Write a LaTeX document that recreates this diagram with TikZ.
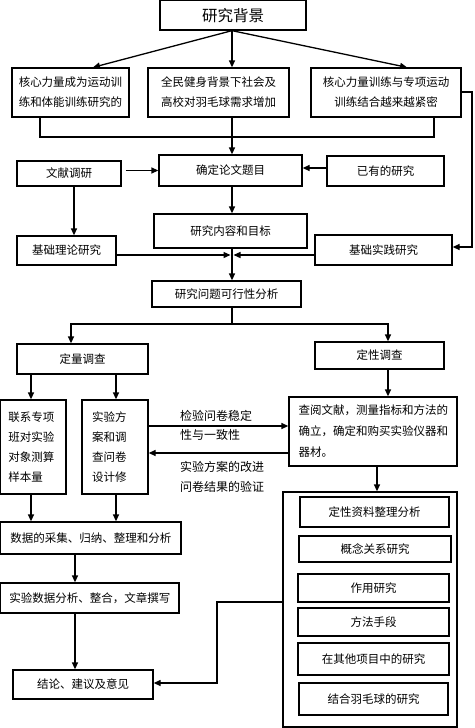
\documentclass[tikz,border=0pt]{standalone}
\usepackage{fontspec}
\newfontfamily\cjk{Noto Sans CJK SC}
\usetikzlibrary{arrows.meta,calc}
\tikzset{
  box/.style={draw, line width=1.3pt, inner sep=0pt, align=center,
    font=\cjk\fontsize{11.5}{20}\selectfont},
  lbl/.style={inner sep=0pt, align=left, anchor=west,
    font=\cjk\fontsize{12}{19.5}\selectfont},
  arr/.style={-{Triangle[length=7pt,width=6pt]}, line width=1.3pt},
  ln/.style={line width=1.3pt}
}
\newcommand\mkbox[7][]{%
  \node[box, minimum width={#5-#3}, minimum height={#6-#4}, #1]
    (#2) at ({(#3+#5)/2},{(#4+#6)/2}) {#7};}
\begin{document}
\begin{tikzpicture}[x=1pt,y=-1pt]
\useasboundingbox (0,0) rectangle (474,728);
% boxes
\mkbox[font=\cjk\fontsize{15.5}{18}\selectfont]{bg}{160}{0.7}{306}{30}{研究背景}
\mkbox{b1}{12}{68}{129}{117}{核心力量成为运动训\\练和体能训练研究的}
\mkbox{b2}{148}{68}{289}{117}{全民健身背景下社会及\\高校对羽毛球需求增加}
\mkbox{b3}{311}{68}{461}{117}{核心力量训练与专项运动\\训练结合越来越紧密}
\mkbox{qd}{159}{155}{302}{186}{确定论文题目}
\mkbox{wx}{17}{161}{121}{186}{文献调研}
\mkbox{yy}{327}{156}{444}{186}{已有的研究}
\mkbox{nr}{154}{214}{307}{248}{研究内容和目标}
\mkbox{ll}{17}{236}{116}{265}{基础理论研究}
\mkbox{sj}{315}{235}{452}{265}{基础实践研究}
\mkbox{kx}{152}{281}{301}{307}{研究问题可行性分析}
\mkbox{dl}{17}{344}{148}{374}{定量调查}
\mkbox{dx}{315}{342}{444}{369}{定性调查}
\mkbox[align=left, text width=50pt]{lx}{0.7}{400}{66}{494}{联系专项\\班对实验\\对象测算\\样本量}
\mkbox[align=left, text width=46pt]{fa}{82}{400}{148}{494}{实验方\\案和调\\查问卷\\设计修}
\mkbox[align=left, text width=149pt, font=\cjk\fontsize{11.5}{21}\selectfont]{cy}{289}{397}{457}{466}{查阅文献，测量指标和方法的\\确立，确定和购买实验仪器和\\器材。}
\mkbox{sc}{0.7}{522}{181}{554}{数据的采集、归纳、整理和分析}
\mkbox{fx}{0.7}{583}{179}{613}{实验数据分析、整合，文章撰写}
\mkbox{jl}{13}{670}{153}{699}{结论、建议及意见}
\mkbox{big}{283}{492}{457}{727}{}
\mkbox{i1}{300}{497}{449}{527}{定性资料整理分析}
\mkbox{i2}{299}{536}{451}{562}{概念关系研究}
\mkbox{i3}{298}{574}{449}{602}{作用研究}
\mkbox{i4}{298}{608}{449}{636}{方法手段}
\mkbox{i5}{298}{643}{449}{675}{在其他项目中的研究}
\mkbox{i6}{299}{683}{448}{715}{结合羽毛球的研究}
% labels
\node[lbl] (la) at (180,425.5) {检验问卷稳定\\性与一致性};
\node[lbl] (lb) at (180,477) {实验方案的改进\\问卷结果的验证};
% coordinates
\coordinate (ax) at (232,0);
\coordinate (h1) at (40,137);
\coordinate (hm) at (232,137);
\coordinate (h3) at (434,137);
\coordinate (r1) at (472,92);
\coordinate (r2) at (472,247);
\coordinate (m) at (232,255);
\coordinate (s) at (232,324);
\coordinate (sl) at (71,324);
\coordinate (sr) at (388,324);
\coordinate (c1) at (31,0);
\coordinate (c2) at (116,0);
\coordinate (c3) at (75,0);
\coordinate (c4) at (74,0);
\coordinate (c5) at (377,0);
\coordinate (ya) at (0,426);
\coordinate (yb) at (0,453);
\coordinate (t1) at (217,602);
\coordinate (t2) at (217,683);
% connectors
\draw[arr] (bg.south -| ax) -- ($(b1.north)+(22.5,0)$);
\draw[arr] (bg.south -| ax) -- (b2.north -| ax);
\draw[arr] (bg.south -| ax) -- ($(b3.north)+(21,0)$);
\draw[ln] (b1.south -| h1) -- (h1) -- (h3) -- (b3.south -| h3);
\draw[ln] (b2.south -| hm) -- (hm);
\draw[arr] (hm) -- (qd.north -| hm);
\draw[arr] ($(wx.east |- qd.west)+(4,0)$) -- (qd.west);
\draw[arr] (yy.west |- 0,168) -- (qd.east |- 0,168);
\draw[arr] (qd.south -| ax) -- (nr.north -| ax);
\draw[arr] (wx.south -| c4) -- (ll.north -| c4);
\draw[arr] (b3.east |- r1) -- (r1) -- (r2) -- (sj.east |- r2);
\draw[arr] (ll.east |- m) -- ($(m)+(-1.5,0)$);
\draw[arr] (sj.west |- m) -- ($(m)+(1.5,0)$);
\draw[arr] (nr.south -| ax) -- (kx.north -| ax);
\draw[ln] (kx.south -| s) -- (s);
\draw[arr] (s) -| (dl.north -| sl);
\draw[arr] (s) -| (dx.north -| sr);
\draw[arr] (dl.south -| c1) -- (lx.north -| c1);
\draw[arr] (dl.south -| c2) -- (fa.north -| c2);
\draw[arr] (dx.south -| sr) -- (cy.north -| sr);
\draw[arr] (fa.east |- ya) -- (cy.west |- ya);
\draw[arr] (cy.west |- yb) -- (fa.east |- yb);
\draw[arr] (cy.south -| c5) -- (big.north -| c5);
\draw[arr] (lx.south -| c1) -- (sc.north -| c1);
\draw[arr] (fa.south -| c2) -- (sc.north -| c2);
\draw[arr] (sc.south -| c3) -- (fx.north -| c3);
\draw[arr] (fx.south -| c3) -- (jl.north -| c3);
\draw[arr] (big.west |- t1) -- (t1) -- (t2) -- (jl.east |- t2);
\end{tikzpicture}
\end{document}
